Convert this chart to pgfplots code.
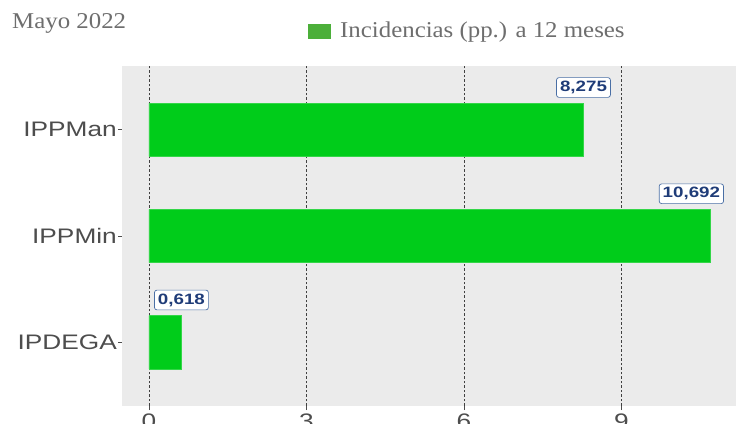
\documentclass[border=0pt]{standalone}
\usepackage{fontspec}
\setmainfont[FakeStretch=1.1]{Liberation Serif}
\newfontfamily\lsans[FakeStretch=1.25]{Liberation Sans}
\usepackage{pgfplots}
\pgfplotsset{compat=1.18}
\definecolor{panel}{HTML}{EBEBEB}
\definecolor{barg}{HTML}{00CC1A}
\definecolor{keyg}{HTML}{4CAF3A}
\definecolor{tickc}{HTML}{4D4D4D}
\definecolor{titc}{HTML}{6E6E6E}
\definecolor{lblc}{HTML}{1F3C78}
\definecolor{boxc}{HTML}{4A6FA5}
\begin{document}
\begin{tikzpicture}[x=1pt,y=1pt]
\useasboundingbox (0,0) rectangle (736,423);
\clip (0,0) rectangle (736,423);
\fill[white] (0,0) rectangle (736,423);
\node[anchor=base west, inner sep=0pt, text=titc, font=\fontsize{22.6}{23}\selectfont] at (12,394) {Mayo 2022};
\fill[keyg] (308,384) rectangle (331,399);
\node[anchor=base west, inner sep=0pt, text=titc, font=\fontsize{22.6}{23}\selectfont] at (340,385) {Incidencias (pp.) a 12 meses};
\begin{axis}[
  at={(122pt,17pt)}, anchor=south west,
  scale only axis, width=614pt, height=340pt,
  xmin=-0.514, xmax=11.18, ymin=0.4, ymax=3.6,
  axis background/.style={fill=panel},
  axis line style={draw=none},
  xtick={0,3,6,9}, xticklabels={0,3,6,9},
  ytick={1,2,3}, yticklabels={IPDEGA,IPPMin,IPPMan},
  tick align=outside, major tick length=4pt,
  tick style={color=tickc, line width=0.8pt},
  xtick pos=bottom, ytick pos=left,
  xmajorgrids, ymajorgrids=false,
  major x grid style={color=black!75, dash pattern=on 2.5pt off 2pt, line width=0.7pt},
  yticklabel style={font=\lsans\fontsize{21}{21}\selectfont, text=tickc, inner sep=1pt},
  xticklabel style={font=\lsans\fontsize{21}{21}\selectfont, text=tickc, inner sep=1pt, yshift=-3pt},
  clip=false,
]
\addplot[xbar, bar width=0.5, fill=barg, draw=barg!80!white, line width=0.5pt]
  coordinates {(0.618,1) (10.692,2) (8.275,3)};
\addplot[draw=none, mark=none, nodes near coords, point meta=explicit symbolic,
  every node near coord/.style={anchor=south, yshift=33pt-1pt, font=\lsans\bfseries\fontsize{15}{15}\selectfont,
    text=lblc, fill=white, draw=boxc, rounded corners=2.5pt, line width=0.7pt, inner xsep=3.5pt, inner ysep=3.5pt}]
  coordinates {(0.618,1)[0,618] (8.275,3)[8,275]};
\addplot[draw=none, mark=none, nodes near coords, point meta=explicit symbolic,
  every node near coord/.style={anchor=south, xshift=-19pt, yshift=33pt-1pt, font=\lsans\bfseries\fontsize{15}{15}\selectfont,
    text=lblc, fill=white, draw=boxc, rounded corners=2.5pt, line width=0.7pt, inner xsep=3.5pt, inner ysep=3.5pt}]
  coordinates {(10.692,2)[10,692]};
\end{axis}
\end{tikzpicture}
\end{document}
